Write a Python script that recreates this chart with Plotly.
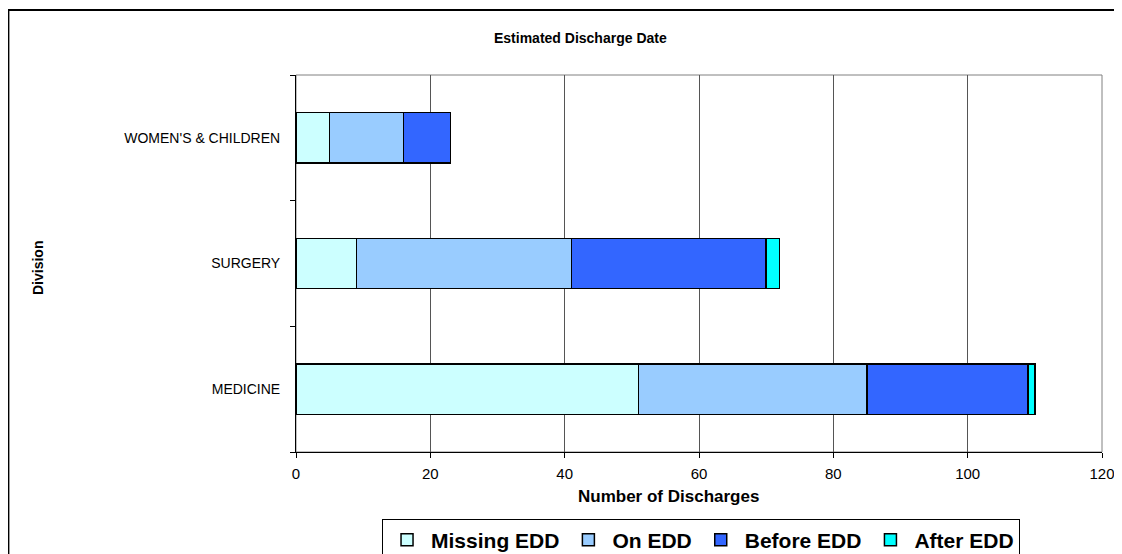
import plotly.graph_objects as go

divisions = ["MEDICINE", "SURGERY", "WOMEN'S & CHILDREN"]
series_names = ["Missing EDD", "On EDD", "Before EDD", "After EDD"]
missing_edd = [51, 9, 5]
on_edd = [34, 32, 11]
before_edd = [24, 29, 7]
after_edd = [1, 2, 0]
x_ticks = [0, 20, 40, 60, 80, 100, 120]

colors = ["#CCFFFF", "#99CCFF", "#3366FF", "#00FFFF"]
values = [missing_edd, on_edd, before_edd, after_edd]

# page has an 8px body margin: figure origin sits at (8, 8) in the screenshot
OFF = 8
W, H = 1122 - OFF, 554 - OFF
L = 296 - OFF
R = W - (1101.7 - OFF)
T = 74.5 - OFF
B = H - (452.3 - OFF)
PW = W - L - R
PH = H - T - B

def px(sx):
    return (sx - OFF - L) / PW

def py(sy):
    return (H - B - (sy - OFF)) / PH

FONT = "Liberation Sans, Arial, sans-serif"

fig = go.Figure()
for name, vals, col in zip(series_names, values, colors):
    fig.add_trace(go.Bar(
        y=divisions, x=vals, name=name, orientation="h",
        marker=dict(color=col, line=dict(color="black", width=1.5)),
    ))

fig.update_layout(
    width=W, height=H,
    margin=dict(l=L, r=R, t=T, b=B, pad=0, autoexpand=False),
    barmode="stack", bargap=0.6,
    plot_bgcolor="white", paper_bgcolor="white",
    font=dict(family=FONT, color="black", size=14),
    showlegend=True,
    legend=dict(
        orientation="h", x=px(382), y=py(519), xanchor="left", yanchor="top",
        bordercolor="black", borderwidth=1,
        font=dict(family=FONT, size=21, color="black", weight="bold"),
        traceorder="normal", itemwidth=38,
    ),
    xaxis=dict(
        range=[0, 120], tickvals=x_ticks, ticktext=[str(v) for v in x_ticks],
        showgrid=True, gridcolor="#555555", gridwidth=1,
        showline=True, linecolor="black", linewidth=1,
        ticks="outside", ticklen=5, tickcolor="black",
        tickfont=dict(size=15), zeroline=False, fixedrange=True,
        ticklabelstandoff=3, automargin=False,
    ),
    yaxis=dict(
        categoryorder="array", categoryarray=divisions,
        showline=True, linecolor="black", linewidth=1,
        ticks="outside", ticklen=5, tickcolor="black", tickson="boundaries",
        showgrid=False, tickfont=dict(size=14), ticklabelstandoff=12,
        automargin=False,
    ),
    shapes=[
        dict(type="rect", xref="paper", yref="paper", x0=0, x1=1, y0=0, y1=1,
             line=dict(color="#808080", width=1), layer="below"),
        dict(type="line", xref="paper", yref="paper", x0=px(8.5), x1=px(8.5),
             y0=py(9), y1=py(600), line=dict(color="black", width=2)),
        dict(type="line", xref="paper", yref="paper", x0=px(8), x1=px(1130),
             y0=py(9.3), y1=py(9.3), line=dict(color="black", width=2)),
    ],
    annotations=[
        dict(text="<b>Estimated Discharge Date</b>", xref="paper", yref="paper",
             x=px(580), y=py(37), showarrow=False, font=dict(size=14),
             xanchor="center", yanchor="middle"),
        dict(text="<b>Number of Discharges</b>", xref="paper", yref="paper",
             x=px(668), y=py(497), showarrow=False, font=dict(size=17),
             xanchor="center", yanchor="middle"),
        dict(text="<b>Division</b>", xref="paper", yref="paper",
             x=px(38), y=py(268), showarrow=False, font=dict(size=14),
             textangle=-90, xanchor="center", yanchor="middle"),
    ],
)

fig.write_html("out.html")
